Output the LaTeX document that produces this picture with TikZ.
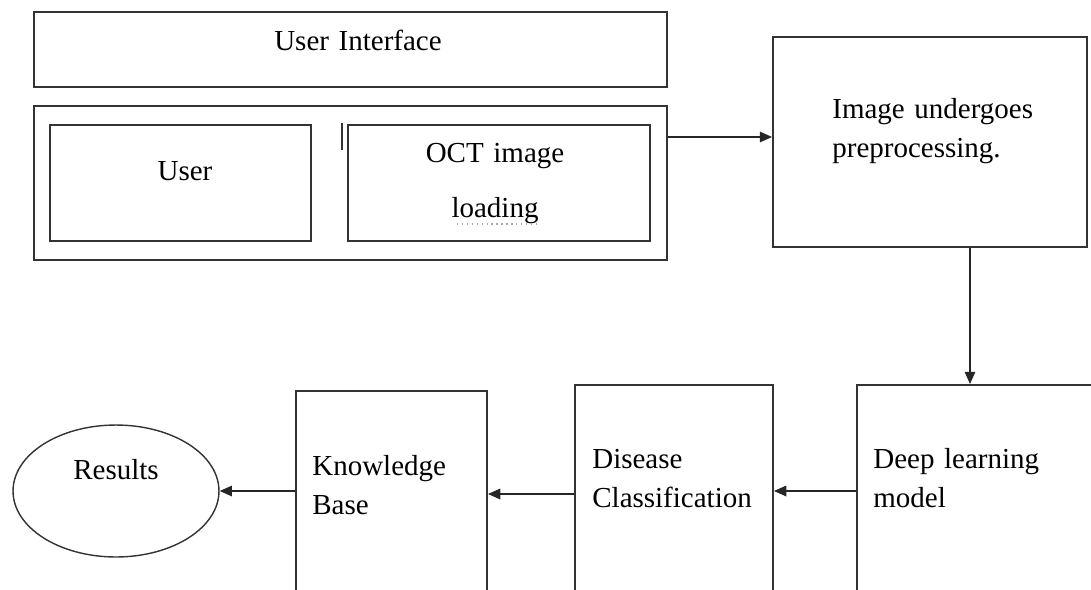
\documentclass[tikz,border=0pt]{standalone}
\usepackage{fontspec}
\setmainfont{Liberation Serif}
\usetikzlibrary{positioning,arrows.meta,shapes.geometric,calc}

\begin{document}
\begin{tikzpicture}[x=0.02cm, y=-0.02cm,
        boxStyle/.style={draw=black!80, line width=1.1pt, rectangle, inner sep=0pt},
        textStyle/.style={font=\fontsize{16.5}{22.5}\selectfont, inner sep=0pt, text width=5.6cm, align=left, anchor=base west},
        arrowStyle/.style={-{Triangle[length=7pt,width=6pt]}, line width=0.8pt, draw=black!85}
    ]
        \useasboundingbox (0,0) rectangle (1091,589);
        \clip (0,0) rectangle (1091,589);

        % Top: interface and loading
        \node[boxStyle, minimum width=12.66cm, minimum height=1.5cm] (ui) at (350.5,49.5) {};
        \node[boxStyle, minimum width=12.66cm, minimum height=3.08cm] (outer) at (350.5,183) {};
        \node[boxStyle, minimum width=5.22cm, minimum height=2.32cm] (user) at (180.5,183) {};
        \node[boxStyle, minimum width=6.04cm, minimum height=2.32cm] (oct) at (499,183) {};
        \draw[line width=1.2pt, black!80] (342,123) -- (342,150);

        \node[textStyle, text width=6cm, align=center, anchor=base] (uiText) at (358,50) {User Interface};
        \node[textStyle, text width=4cm, align=center, anchor=base] (userText) at (185,180) {User};
        \node[textStyle, text width=5.6cm, align=center, anchor=base] (octText) at (495,162) {OCT image\\[9pt]loading};
        \draw[gray!70, dotted, line width=0.8pt] (457,224) -- (540,224);

        % Right: preprocessing
        \node[boxStyle, minimum width=6.28cm, minimum height=4.2cm] (pre) at (930,142) {};
        \node[textStyle] (preText) at (832,118) {Image undergoes\\preprocessing.};

        % Bottom row
        \node[boxStyle, minimum width=5.46cm, minimum height=4.7cm] (deep) at (993.5,502.5) {};
        \node[boxStyle, minimum width=3.96cm, minimum height=4.7cm] (disease) at (674,502.5) {};
        \node[boxStyle, minimum width=3.82cm, minimum height=4.58cm] (know) at (391.5,505.5) {};
        \node[ellipse, draw=black!80, line width=0.8pt, minimum width=4.12cm, minimum height=2.64cm, inner sep=0pt] (results) at (116,491) {};

        \node[textStyle] (deepText) at (873,468) {Deep learning\\model};
        \node[textStyle] (diseaseText) at (592,468) {Disease\\Classification};
        \node[textStyle] (knowText) at (312,475) {Knowledge\\Base};
        \node[textStyle, text width=3cm, align=center, anchor=base] (resultsText) at (116,479) {Results};

        % Connectors
        \draw[arrowStyle] ([yshift=0.1cm]outer.east |- pre.west) -- ([yshift=0.1cm]pre.west);
        \draw[arrowStyle] ([xshift=0.8cm]pre.south) -- ([xshift=0.8cm]pre.south |- deep.north);
        \draw[arrowStyle] ([yshift=0.23cm]deep.west) -- ([yshift=0.23cm]deep.west -| disease.east);
        \draw[arrowStyle] ([yshift=0.17cm]disease.west) -- ([yshift=0.17cm]disease.west -| know.east);
        \draw[arrowStyle] (know.west |- results.east) -- (results.east);
    \end{tikzpicture}
\end{document}
